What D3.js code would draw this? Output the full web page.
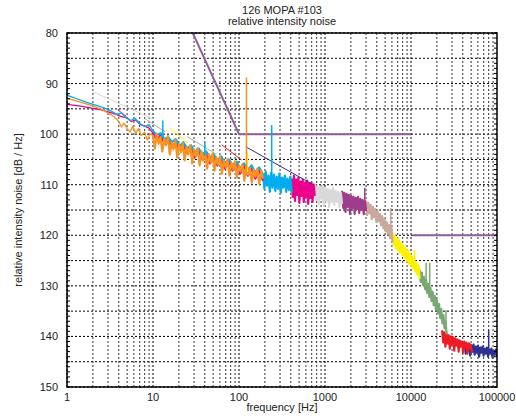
<!DOCTYPE html>
<html>
<head>
<meta charset="utf-8">
<script src="https://cdn.jsdelivr.net/npm/d3@7"></script>
<style>
  body { margin: 0; background: #fff; }
  text { font-family: "Liberation Sans", Arial, sans-serif; fill: #222; }
</style>
</head>
<body>
<div id="chart"></div>
<script>
// Valeurs (dB/Hz)
const titleLines = ['126 MOPA #103', 'relative intensity noise'];
const xTickValues = [1, 10, 100, 1000, 10000, 100000];
const yTickValues = [80, 90, 100, 110, 120, 130, 140, 150];

// lignes basses frequences (f, dB)
const lowCyan = [[1,92.3],[1.3,93.0],[1.7,93.7],[2.2,94.3],[2.8,94.9],[3.3,95.5],[3.8,96.1],[4.3,95.8],[4.8,96.7],[5.5,97.3],[6.2,96.9],[7,97.9],[8,98.5],[9,98.1],[10,99.4]];
const lowPink = [[1,94.1],[1.5,94.5],[2,94.9],[2.5,95.2],[3,95.6],[3.6,96.0],[4.2,96.5],[5,96.8],[5.6,97.5],[6.3,97.2],[7,98.0],[8,98.4],[9,98.8],[10,99.8]];
const lowOrange = [[1,92.9],[1.4,93.6],[2,94.4],[2.6,95.2],[3,95.8],[3.5,96.5],[4,97.5],[4.3,98.6],[4.6,97.8],[5,98.9],[5.4,99.6],[5.8,98.5],[6.3,99.8],[6.8,98.9],[7.3,100.3],[8,99.6],[8.6,101.2],[9.2,100.0],[10,100.2]];

// bandes de bruit: valeurs sur une grille log reguliere entre f0 et f1
const pinkBand = [99.8,101.2,100.2,101.8,101.0,102.6,101.6,103.0,102.0,103.8,102.6,104.6,103.2,105.0,103.8,105.8,104.4,106.2,104.8,106.8,105.4,107.2,105.8,107.8,106.2,108.2,106.8,108.8,107.2,109.2];
const cyanLowBand = [99.4,100.2,99.8,101.0,100.6,101.6,101.0,102.4,101.6,102.8,102.2,103.6,102.8,104.0,103.4,104.6,104.0,105.2,104.4,105.8,105.0,106.2,105.4,106.8,105.8,107.0,106.2,107.6,106.6,108.0];
const orangeBand = [100.2,102.8,99.9,101.9,100.6,103.4,101.0,102.2,100.4,104.0,
  101.6,103.0,101.2,104.6,102.0,103.6,101.8,105.2,102.6,104.0,
  102.2,105.8,103.0,104.4,102.8,106.2,103.4,105.2,103.6,106.8,
  104.0,105.6,103.8,107.2,104.6,106.0,104.4,107.8,105.2,106.6,
  105.0,108.2,105.6,107.0,105.4,108.6,106.2,107.4,106.0,109.2,
  106.4,108.0,106.6,109.6,107.0,108.4,106.8,109.8,107.2,108.8];
const cyanBand = [107.8,110.8,107.4,110.2,108.2,111.4,107.6,110.6,108.0,111.2,108.4,110.8,107.8,111.6,108.6,110.6,108.2,111.4,108.8,111.0,108.4,111.6];
const magentaBand = [108.8,112.4,108.2,113.2,109.0,112.0,108.6,113.6,109.4,112.2,109.0,113.4,109.6,112.4,109.2,113.8,109.8,112.6,109.6,113.4,110.0,112.2];
const grayBand = [109.8,113.0,110.2,113.8,110.4,112.8,110.2,114.2,110.6,113.2,110.8,114.4,111.0,113.4,110.6,114.0,111.2,113.4,111.4,114.4,111.6,113.8];
const purpleBand = [111.2,114.6,111.6,115.4,111.8,114.4,112.0,115.8,112.2,114.6,112.4,115.8,112.6,114.8,112.4,115.6,112.8,115.0,113.0,115.8,113.2,115.2];
const tanBand = [113.2,116.0,113.6,115.6,114.0,116.8,114.4,116.4,114.8,117.4,115.2,117.2,115.8,118.0,116.2,118.6,116.8,119.2,117.4,119.8,118.0,120.6,118.4,121.4];
const yellowBand = [119.6,121.8,120.0,122.6,120.6,123.0,121.0,123.4,121.6,124.0,122.0,124.4,122.6,125.0,123.0,125.6,123.6,126.0,124.2,126.6,124.8,127.2,125.4,127.8,126.0,128.6];
const greenBand = [126.8,129.2,127.4,129.8,128.2,130.6,128.8,131.4,129.6,132.2,130.4,133.0,131.2,133.8,132.0,134.6,132.8,135.4,133.6,136.4,134.6,137.4,135.8,138.4,137.0,139.6];
const redBand = [138.8,141.2,139.2,142.0,139.4,141.4,139.8,142.4,140.0,141.6,140.2,142.8,140.4,141.8,140.6,143.0,140.8,142.0,141.0,143.2,141.0,142.2,141.2,143.4,141.4,142.4,141.6,143.2];
const navyBand = [141.2,143.4,141.6,142.8,141.4,143.8,141.8,143.0,141.6,143.6,142.0,143.2,141.8,144.0,142.2,143.2,142.0,143.8,142.4,143.4,142.2,144.0,142.6,143.4,142.4,144.2,142.8,143.6,142.6,144.0];

// pics isoles (f, sommet, base)
const spikes = [
  ['#00aeef', 13, 97.3, 100.4], ['#00aeef', 40, 101.5, 104.2],
  ['#fff200', 125, 103.5, 107.5], ['#f7931e', 122, 88.8, 108.0],
  ['#00aeef', 240, 98.2, 109.2], ['#9e3d8b', 2900, 110.6, 113.8],
  ['#c9a99c', 5800, 114.6, 118.6], ['#fff200', 11000, 122.9, 126.4],
  ['#7aa874', 15000, 125.5, 131.0], ['#7aa874', 16500, 125.5, 132.0],
  ['#7aa874', 25500, 134.8, 139.0], ['#2e3192', 80000, 138.7, 142.6]
];

// droites d'ajustement (f, dB)
const fitLines = [
  ['#d8d8d8', [[2, 91.6], [10, 97.0]]],
  ['#e6007e', [[3.9, 95.2], [4.9, 96.5]]],
  ['#c9a99c', [[8, 96.9], [14, 99.6]]],
  ['#fff200', [[15.7, 98.8], [25.6, 101.8]]],
  ['#a8b89a', [[25, 100.5], [55, 104.0]]],
  ['#ed1c24', [[63, 102.1], [107, 105.1]]],
  ['#2e3192', [[120, 102.5], [730, 110.0]]]
];

// gabarit (f, dB)
const limitHigh = [[29, 80], [100, 100], [10000, 100]];
const limitLow = [[10500, 120], [100000, 120]];

const width = 516, height = 420;
const margin = { top: 33, right: 19, bottom: 33, left: 67 };

const svg = d3.select('#chart').append('svg')
  .attr('width', width).attr('height', height);

const x = d3.scaleLog().domain([1, 100000]).range([margin.left, width - margin.right]);
const y = d3.scaleLinear().domain([80, 150]).range([margin.top, height - margin.bottom]);

// Titre
titleLines.forEach((t, i) => {
  svg.append('text')
    .attr('x', (x.range()[0] + x.range()[1]) / 2)
    .attr('y', 14 + i * 11)
    .attr('text-anchor', 'middle')
    .style('font-size', '11px')
    .text(t);
});

// Grille
const grid = svg.append('g');
d3.range(80, 151, 5).forEach(v => {
  grid.append('line')
    .attr('x1', x.range()[0]).attr('x2', x.range()[1])
    .attr('y1', y(v)).attr('y2', y(v))
    .attr('stroke', '#000').attr('stroke-width', 1)
    .attr('stroke-dasharray', '2,2');
});
for (let d = 1; d < 100000; d *= 10) {
  for (let k = 1; k <= 9; k++) {
    const f = d * k;
    grid.append('line')
      .attr('x1', x(f)).attr('x2', x(f))
      .attr('y1', y.range()[0]).attr('y2', y.range()[1])
      .attr('stroke', k === 1 ? '#000' : '#333').attr('stroke-width', 1)
      .attr('stroke-dasharray', '2,2');
  }
}

svg.append('clipPath').attr('id', 'clip').append('rect')
  .attr('x', x.range()[0]).attr('y', y.range()[0])
  .attr('width', x.range()[1] - x.range()[0])
  .attr('height', y.range()[1] - y.range()[0]);

const plot = svg.append('g').attr('clip-path', 'url(#clip)');
const line = d3.line().x(d => x(d[0])).y(d => y(d[1]));

function bandPoints(f0, f1, values) {
  const l0 = Math.log10(f0), l1 = Math.log10(f1);
  return values.map((v, i) => [Math.pow(10, l0 + (l1 - l0) * i / (values.length - 1)), v]);
}

function drawPath(pts, color, w) {
  plot.append('path')
    .datum(pts)
    .attr('d', line)
    .attr('fill', 'none')
    .attr('stroke', color)
    .attr('stroke-width', w)
    .attr('stroke-linejoin', 'round');
}

// Gabarit
drawPath(limitHigh, '#8e5f9c', 2);
drawPath(limitLow, '#8e5f9c', 2);

// Bandes, hautes frequences d'abord
const bands = [
  ['#2e3192', 42000, 100000, navyBand],
  ['#ed1c24', 23000, 51000, redBand],
  ['#7aa874', 12600, 26000, greenBand],
  ['#fff200', 6100, 12600, yellowBand],
  ['#c9a99c', 3000, 6100, tanBand],
  ['#9e3d8b', 1580, 3000, purpleBand],
  ['#d9d9d9', 760, 1580, grayBand],
  ['#ec008c', 410, 760, magentaBand],
  ['#00aeef', 190, 410, cyanBand],
  ['#ec008c', 10, 190, pinkBand],
  ['#00aeef', 10, 190, cyanLowBand]
];
bands.forEach(b => drawPath(bandPoints(b[1], b[2], b[3]), b[0], 2.2));

fitLines.forEach(fl => drawPath(fl[1], fl[0], 1));

drawPath(lowPink, '#ec008c', 1.3);
drawPath(lowCyan, '#00aeef', 1.3);
drawPath(lowOrange, '#f7931e', 1.3);
drawPath(bandPoints(10, 190, orangeBand), '#f7931e', 2.2);

spikes.forEach(s => drawPath([[s[1], s[3]], [s[1], s[2]]], s[0], 1.5));

// Cadre et petites graduations
const frame = svg.append('g');
frame.append('rect')
  .attr('x', x.range()[0]).attr('y', y.range()[0])
  .attr('width', x.range()[1] - x.range()[0])
  .attr('height', y.range()[1] - y.range()[0])
  .attr('fill', 'none').attr('stroke', '#000').attr('stroke-width', 1.5);

d3.range(80, 151, 1).forEach(v => {
  [[x.range()[0], 3], [x.range()[1], -3]].forEach(([xx, dx]) => {
    frame.append('line')
      .attr('x1', xx).attr('x2', xx + dx)
      .attr('y1', y(v)).attr('y2', y(v))
      .attr('stroke', '#000').attr('stroke-width', 1);
  });
});

// Axes (libelles)
yTickValues.forEach(v => {
  svg.append('text')
    .attr('x', margin.left - 9)
    .attr('y', y(v) + 4)
    .attr('text-anchor', 'end')
    .style('font-size', '11px')
    .text(v);
});
xTickValues.forEach(v => {
  svg.append('text')
    .attr('x', x(v))
    .attr('y', y.range()[1] + 14)
    .attr('text-anchor', 'middle')
    .style('font-size', '11px')
    .text(v);
});

svg.append('text')
  .attr('x', (x.range()[0] + x.range()[1]) / 2)
  .attr('y', height - 9)
  .attr('text-anchor', 'middle')
  .style('font-size', '11px')
  .text('frequency [Hz]');

svg.append('text')
  .attr('transform', 'rotate(-90)')
  .attr('x', -(y.range()[0] + y.range()[1]) / 2)
  .attr('y', 22)
  .attr('text-anchor', 'middle')
  .style('font-size', '11px')
  .text('relative intensity noise [dB / Hz]');
</script>
</body>
</html>
